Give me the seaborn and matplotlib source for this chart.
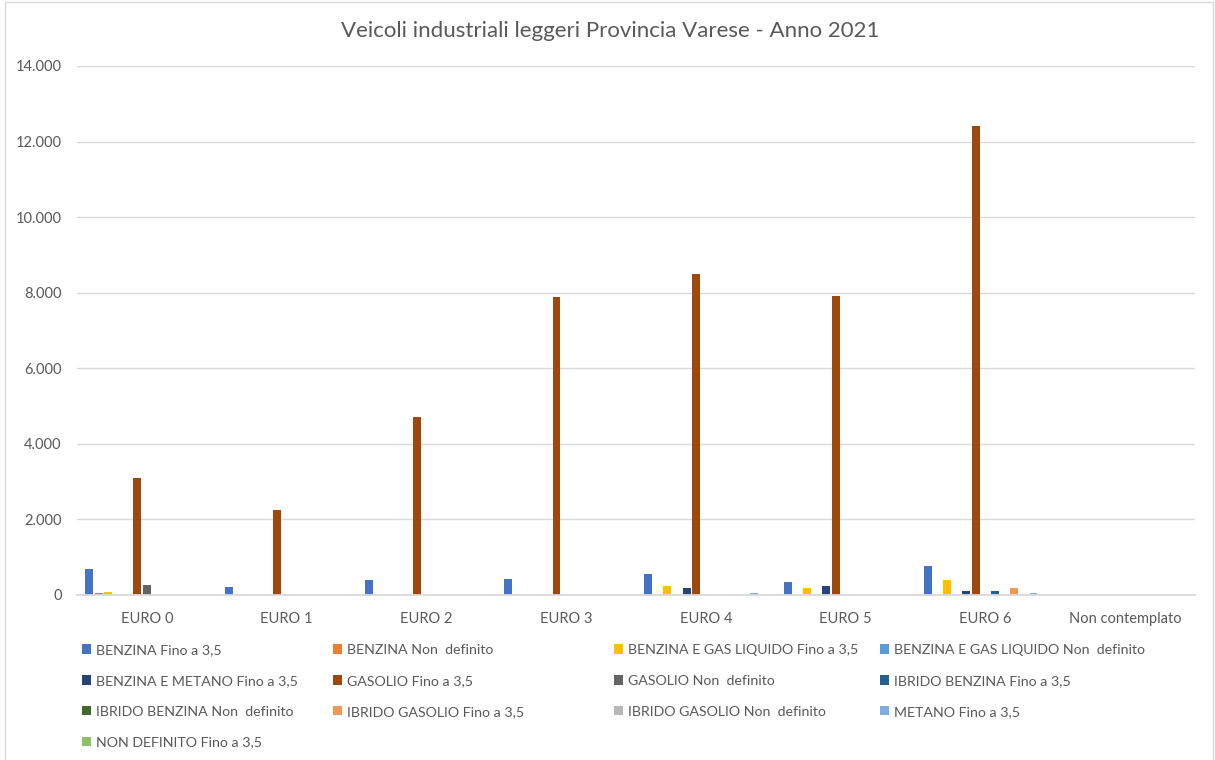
import matplotlib
matplotlib.use("Agg")
import matplotlib.pyplot as plt
from matplotlib.patches import Rectangle, Patch
from matplotlib.ticker import FuncFormatter
import numpy as np
import pandas as pd
import seaborn as sns

# Euro class categories
categories = ["EURO 0", "EURO 1", "EURO 2", "EURO 3", "EURO 4", "EURO 5", "EURO 6",
              "Non contemplato"]

# Fuel / weight series
series = [
    "BENZINA Fino a 3,5",
    "BENZINA Non  definito",
    "BENZINA E GAS LIQUIDO Fino a 3,5",
    "BENZINA E GAS LIQUIDO Non  definito",
    "BENZINA E METANO Fino a 3,5",
    "GASOLIO Fino a 3,5",
    "GASOLIO Non  definito",
    "IBRIDO BENZINA Fino a 3,5",
    "IBRIDO BENZINA Non  definito",
    "IBRIDO GASOLIO Fino a 3,5",
    "IBRIDO GASOLIO Non  definito",
    "METANO Fino a 3,5",
    "NON DEFINITO Fino a 3,5",
]

# Vehicle counts per series, one value per Euro class
benzina_fino = [680, 200, 390, 430, 565, 345, 765, 0]
benzina_nd = [50, 0, 0, 0, 0, 0, 0, 0]
gpl_fino = [80, 0, 0, 0, 250, 185, 390, 0]
gpl_nd = [0, 0, 0, 0, 0, 0, 0, 0]
metano_benz_fino = [0, 0, 0, 0, 175, 230, 115, 0]
gasolio_fino = [3100, 2250, 4700, 7880, 8500, 7900, 12400, 0]
gasolio_nd = [255, 0, 0, 0, 0, 0, 0, 0]
ibr_benz_fino = [0, 0, 0, 0, 0, 0, 115, 0]
ibr_benz_nd = [0, 0, 0, 0, 0, 0, 0, 0]
ibr_gas_fino = [0, 0, 0, 0, 0, 0, 185, 0]
ibr_gas_nd = [0, 0, 0, 0, 0, 0, 0, 0]
metano_fino = [0, 0, 0, 0, 40, 0, 45, 0]
non_def_fino = [0, 0, 0, 0, 0, 0, 0, 0]

values = [benzina_fino, benzina_nd, gpl_fino, gpl_nd, metano_benz_fino, gasolio_fino,
          gasolio_nd, ibr_benz_fino, ibr_benz_nd, ibr_gas_fino, ibr_gas_nd,
          metano_fino, non_def_fino]

colors = ["#4472C4", "#ED7D31", "#FFC000", "#5B9BD5", "#264478", "#9E480E",
          "#636363", "#255E91", "#43682B", "#F1975A", "#B7B7B7", "#7CAFDD",
          "#8CC168"]

rows = []
for s, vals in zip(series, values):
    for c, v in zip(categories, vals):
        rows.append({"Categoria": c, "Serie": s, "Veicoli": v})
df = pd.DataFrame(rows)

sns.set_theme(style="white")
plt.rcParams["font.family"] = ["Lato", "DejaVu Sans"]

TXT = "#595959"
GRID = "#D9D9D9"

W, H = 1215, 760
fig = plt.figure(figsize=(W / 100, H / 100), dpi=100)
fig.patch.set_facecolor("white")

# plot area in pixel coordinates
x0, x1, y_top, y_bot = 77, 1195, 66, 595
ax = fig.add_axes([x0 / W, 1 - y_bot / H, (x1 - x0) / W, (y_bot - y_top) / H])

sns.barplot(data=df, x="Categoria", y="Veicoli", hue="Serie", order=categories,
            hue_order=series, palette=colors, width=0.895, gap=0.18,
            linewidth=0, saturation=1, ax=ax, legend=False)

ax.set_ylim(0, 14000)
ax.set_xlim(-0.5, len(categories) - 0.5)
ax.set_yticks(np.arange(0, 14001, 2000))
ax.yaxis.set_major_formatter(FuncFormatter(lambda v, p: f"{int(v):,}".replace(",", ".")))
ax.yaxis.grid(True, color=GRID, linewidth=1)
ax.set_axisbelow(True)
for side in ["top", "right", "left"]:
    ax.spines[side].set_visible(False)
ax.spines["bottom"].set_color(GRID)
ax.spines["bottom"].set_linewidth(1.3)
ax.set_xlabel("")
ax.set_ylabel("")
ax.tick_params(axis="both", length=0, colors=TXT, labelsize=10.5)
ax.tick_params(axis="y", pad=11)
ax.tick_params(axis="x", pad=12)

fig.text(610 / W, 1 - 31 / H, "Veicoli industriali leggeri Provincia Varese - Anno 2021",
         ha="center", va="center", fontsize=16, color=TXT)

# legend laid out in four columns, filled row by row
col_x = [82, 333, 614, 880]
handles = [Patch(facecolor=c, edgecolor="none") for c in colors]
for ci, cx in enumerate(col_x):
    idx = list(range(ci, len(series), 4))
    fig.legend([handles[i] for i in idx], [series[i] for i in idx],
               loc="upper left", bbox_to_anchor=(cx / W, 1 - 644 / H),
               frameon=False, fontsize=10.2, labelcolor=TXT,
               handlelength=0.65, handleheight=0.65, handletextpad=0.35,
               labelspacing=1.33, borderpad=0, borderaxespad=0)

# chart border
fig.add_artist(Rectangle((5 / W, -0.01), (1213 - 5) / W, 1.01 - 1.5 / H,
                         transform=fig.transFigure, fill=False,
                         edgecolor=GRID, linewidth=1))

fig.savefig("out.png", dpi=100, facecolor="white")
